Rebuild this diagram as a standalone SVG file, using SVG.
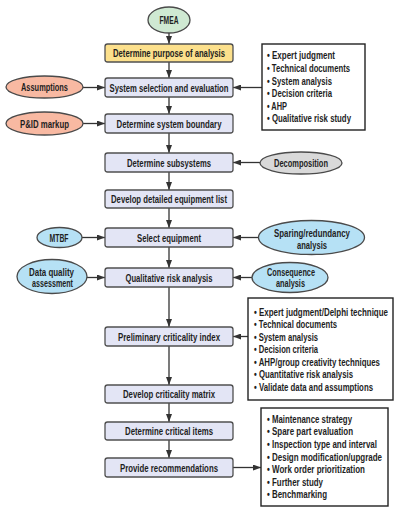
<svg xmlns="http://www.w3.org/2000/svg" width="400" height="512" viewBox="0 0 400 512">
<defs>
<style>
.t{font-family:"Liberation Sans Narrow","Liberation Sans",Arial,sans-serif;font-size:11px;font-weight:bold;fill:#1e1e1e;}
.m{text-anchor:middle;}
.box{fill:#e3e5f5;stroke:#505050;stroke-width:1.3;}
.yel{fill:#fce08c;}
.lst{fill:#fff;stroke:#222;stroke-width:1.4;}
.ell{stroke:#4a4a4a;stroke-width:1.3;}
.grn{fill:#cfe9d2;}
.sal{fill:#f8b9a2;}
.gry{fill:#d9d9d9;}
.blu{fill:#b6e1f5;}
.c{stroke:#333;stroke-width:1.3;fill:none;marker-end:url(#ah);}
</style>
<marker id="ah" viewBox="0 0 8 6" refX="8" refY="3" markerWidth="8" markerHeight="6" markerUnits="userSpaceOnUse" orient="auto">
<path d="M0,0 L8,3 L0,6 z" fill="#333"/>
</marker>
</defs>
<rect width="400" height="512" fill="#fff"/>
<g id="connectors">
<line class="c" x1="169" y1="33" x2="169" y2="44"/>
<line class="c" x1="169" y1="62" x2="169" y2="78"/>
<line class="c" x1="169" y1="97" x2="169" y2="114"/>
<line class="c" x1="169" y1="133" x2="169" y2="153"/>
<line class="c" x1="169" y1="172" x2="169" y2="190"/>
<line class="c" x1="169" y1="208" x2="169" y2="228"/>
<line class="c" x1="169" y1="247" x2="169" y2="268"/>
<line class="c" x1="169" y1="287" x2="169" y2="327"/>
<line class="c" x1="169" y1="346" x2="169" y2="385"/>
<line class="c" x1="169" y1="403" x2="169" y2="422"/>
<line class="c" x1="169" y1="440" x2="169" y2="458"/>
<line class="c" x1="83" y1="87.5" x2="105" y2="87.5"/>
<line class="c" x1="262" y1="87.5" x2="233" y2="87.5"/>
<line class="c" x1="83" y1="123.5" x2="105" y2="123.5"/>
<line class="c" x1="260" y1="162.5" x2="233" y2="162.5"/>
<line class="c" x1="82" y1="237.5" x2="105" y2="237.5"/>
<line class="c" x1="258" y1="237.5" x2="233" y2="237.5"/>
<line class="c" x1="87" y1="277.5" x2="105" y2="277.5"/>
<line class="c" x1="252" y1="277.5" x2="233" y2="277.5"/>
<line class="c" x1="248" y1="336.5" x2="233" y2="336.5"/>
<line class="c" x1="233" y1="467.5" x2="261" y2="467.5"/>
</g>
<g id="fmea"><ellipse class="ell grn" cx="169" cy="20" rx="21" ry="13"/><text class="t m" x="169" y="24" textLength="19" lengthAdjust="spacingAndGlyphs">FMEA</text></g>
<g id="purpose"><rect class="box yel" x="105" y="44" width="128" height="18" rx="2.5"/><text class="t m" x="169" y="57" textLength="112" lengthAdjust="spacingAndGlyphs">Determine purpose of analysis</text></g>
<g id="selection"><rect class="box" x="105" y="78" width="128" height="19" rx="2.5"/><text class="t m" x="169" y="91.5" textLength="119" lengthAdjust="spacingAndGlyphs">System selection and evaluation</text></g>
<g id="boundary"><rect class="box" x="105" y="114" width="128" height="19" rx="2.5"/><text class="t m" x="169" y="127.5" textLength="105" lengthAdjust="spacingAndGlyphs">Determine system boundary</text></g>
<g id="subsystems"><rect class="box" x="105" y="153" width="128" height="19" rx="2.5"/><text class="t m" x="169" y="166.5" textLength="84" lengthAdjust="spacingAndGlyphs">Determine subsystems</text></g>
<g id="equiplist"><rect class="box" x="105" y="190" width="128" height="18" rx="2.5"/><text class="t m" x="169" y="203" textLength="116" lengthAdjust="spacingAndGlyphs">Develop detailed equipment list</text></g>
<g id="selectequip"><rect class="box" x="105" y="228" width="128" height="19" rx="2.5"/><text class="t m" x="169" y="241.5" textLength="64" lengthAdjust="spacingAndGlyphs">Select equipment</text></g>
<g id="qra"><rect class="box" x="105" y="268" width="128" height="19" rx="2.5"/><text class="t m" x="169" y="281.5" textLength="87" lengthAdjust="spacingAndGlyphs">Qualitative risk analysis</text></g>
<g id="pci"><rect class="box" x="105" y="327" width="128" height="19" rx="2.5"/><text class="t m" x="169" y="340.5" textLength="102" lengthAdjust="spacingAndGlyphs">Preliminary criticality index</text></g>
<g id="matrix"><rect class="box" x="105" y="385" width="128" height="18" rx="2.5"/><text class="t m" x="169" y="398" textLength="92" lengthAdjust="spacingAndGlyphs">Develop criticality matrix</text></g>
<g id="critical"><rect class="box" x="105" y="422" width="128" height="18" rx="2.5"/><text class="t m" x="169" y="435" textLength="88" lengthAdjust="spacingAndGlyphs">Determine critical items</text></g>
<g id="recs"><rect class="box" x="105" y="458" width="128" height="19" rx="2.5"/><text class="t m" x="169" y="471.5" textLength="98" lengthAdjust="spacingAndGlyphs">Provide recommendations</text></g>
<g id="assumptions"><ellipse class="ell sal" cx="44.5" cy="87" rx="38.5" ry="11"/><text class="t m" x="44.5" y="91" textLength="47" lengthAdjust="spacingAndGlyphs">Assumptions</text></g>
<g id="pid"><ellipse class="ell sal" cx="44.5" cy="123.5" rx="38.5" ry="11.5"/><text class="t m" x="44.5" y="127.5" textLength="49" lengthAdjust="spacingAndGlyphs">P&amp;ID markup</text></g>
<g id="decomposition"><ellipse class="ell gry" cx="301" cy="163" rx="41" ry="11"/><text class="t m" x="301" y="167" textLength="54" lengthAdjust="spacingAndGlyphs">Decomposition</text></g>
<g id="mtbf"><ellipse class="ell blu" cx="59.5" cy="237.5" rx="22.5" ry="10"/><text class="t m" x="59" y="241.5" textLength="19" lengthAdjust="spacingAndGlyphs">MTBF</text></g>
<g id="sparing"><ellipse class="ell blu" cx="311.5" cy="237.5" rx="53" ry="17"/><text class="t m" x="312" y="237" textLength="76" lengthAdjust="spacingAndGlyphs">Sparing/redundancy</text><text class="t m" x="312" y="249" textLength="30" lengthAdjust="spacingAndGlyphs">analysis</text></g>
<g id="dataquality"><ellipse class="ell blu" cx="52" cy="276.5" rx="35" ry="17"/><text class="t m" x="51.5" y="276" textLength="45" lengthAdjust="spacingAndGlyphs">Data quality</text><text class="t m" x="52.5" y="287" textLength="41" lengthAdjust="spacingAndGlyphs">assessment</text></g>
<g id="consequence"><ellipse class="ell blu" cx="290" cy="277.5" rx="38" ry="15"/><text class="t m" x="291" y="276" textLength="48" lengthAdjust="spacingAndGlyphs">Consequence</text><text class="t m" x="290.5" y="287" textLength="29" lengthAdjust="spacingAndGlyphs">analysis</text></g>
<g id="list1"><rect class="lst" x="262" y="44" width="103" height="86"/>
<g transform="translate(267,0) scale(0.8,1)">
<text class="t" x="0" y="59" textLength="85" lengthAdjust="spacingAndGlyphs">• Expert judgment</text>
<text class="t" x="0" y="72" textLength="103.75" lengthAdjust="spacingAndGlyphs">• Technical documents</text>
<text class="t" x="0" y="85" textLength="81.25" lengthAdjust="spacingAndGlyphs">• System analysis</text>
<text class="t" x="0" y="97" textLength="81.25" lengthAdjust="spacingAndGlyphs">• Decision criteria</text>
<text class="t" x="0" y="110" textLength="25" lengthAdjust="spacingAndGlyphs">• AHP</text>
<text class="t" x="0" y="122" textLength="105" lengthAdjust="spacingAndGlyphs">• Qualitative risk study</text>
</g></g>
<g id="list2"><rect class="lst" x="248" y="298" width="145" height="102"/>
<g transform="translate(254,0) scale(0.7,1)">
<text class="t" x="0" y="316" textLength="191.43" lengthAdjust="spacingAndGlyphs">• Expert judgment/Delphi technique</text>
<text class="t" x="0" y="328.5" textLength="118.57" lengthAdjust="spacingAndGlyphs">• Technical documents</text>
<text class="t" x="0" y="341" textLength="91.43" lengthAdjust="spacingAndGlyphs">• System analysis</text>
<text class="t" x="0" y="353.5" textLength="91.43" lengthAdjust="spacingAndGlyphs">• Decision criteria</text>
<text class="t" x="0" y="366" textLength="180" lengthAdjust="spacingAndGlyphs">• AHP/group creativity techniques</text>
<text class="t" x="0" y="378.5" textLength="141.43" lengthAdjust="spacingAndGlyphs">• Quantitative risk analysis</text>
<text class="t" x="0" y="391" textLength="170" lengthAdjust="spacingAndGlyphs">• Validate data and assumptions</text>
</g></g>
<g id="list3"><rect class="lst" x="261" y="408" width="127" height="98"/>
<g transform="translate(267,0) scale(0.8,1)">
<text class="t" x="0" y="423" textLength="106.25" lengthAdjust="spacingAndGlyphs">• Maintenance strategy</text>
<text class="t" x="0" y="435" textLength="107.5" lengthAdjust="spacingAndGlyphs">• Spare part evaluation</text>
<text class="t" x="0" y="448" textLength="137.5" lengthAdjust="spacingAndGlyphs">• Inspection type and interval</text>
<text class="t" x="0" y="461" textLength="143.75" lengthAdjust="spacingAndGlyphs">• Design modification/upgrade</text>
<text class="t" x="0" y="473" textLength="122.5" lengthAdjust="spacingAndGlyphs">• Work order prioritization</text>
<text class="t" x="0" y="486" textLength="70" lengthAdjust="spacingAndGlyphs">• Further study</text>
<text class="t" x="0" y="498" textLength="75" lengthAdjust="spacingAndGlyphs">• Benchmarking</text>
</g></g>
</svg>
